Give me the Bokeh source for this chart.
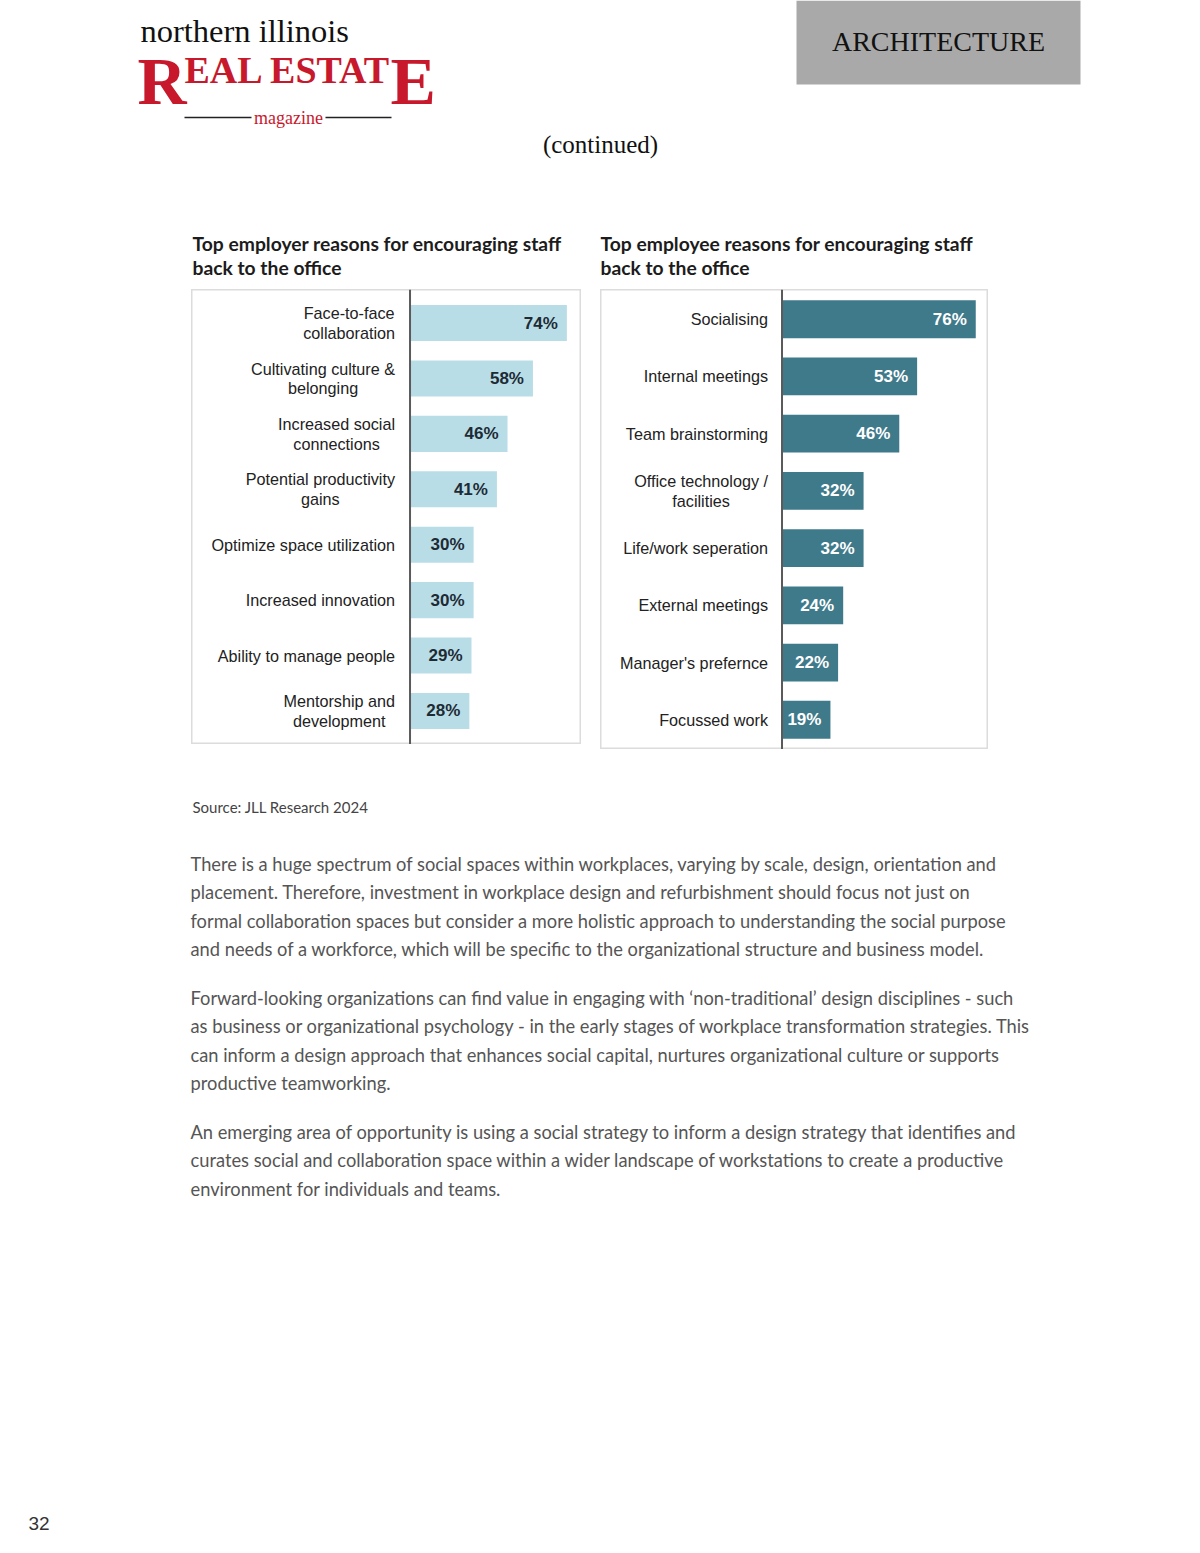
from bokeh.plotting import figure
from bokeh.models import Range1d, FactorRange, Span, Spacer
from bokeh.layouts import column, row
from bokeh.core.properties import value
from bokeh.embed import file_html
from bokeh.resources import INLINE

# ---------------- data ----------------
employer_title = ["Top employer reasons for encouraging staff", "back to the office"]
employer_reasons = ["Face-to-face\ncollaboration", "Cultivating culture &\nbelonging",
                    "Increased social\nconnections", "Potential productivity\ngains",
                    "Optimize space utilization", "Increased innovation",
                    "Ability to manage people", "Mentorship and\ndevelopment"]
employer_pct = [74, 58, 46, 41, 30, 30, 29, 28]

employee_title = ["Top employee reasons for encouraging staff", "back to the office"]
employee_reasons = ["Socialising", "Internal meetings", "Team brainstorming",
                    "Office technology /\nfacilities", "Life/work seperation",
                    "External meetings", "Manager's prefernce", "Focussed work"]
employee_pct = [76, 53, 46, 32, 32, 24, 22, 19]

source_text = "Source: JLL Research 2024"
paragraphs = [
    ["There is a huge spectrum of social spaces within workplaces, varying by scale, design, orientation and",
     "placement. Therefore, investment in workplace design and refurbishment should focus not just on",
     "formal collaboration spaces but consider a more holistic approach to understanding the social purpose",
     "and needs of a workforce, which will be specific to the organizational structure and business model."],
    ["Forward-looking organizations can find value in engaging with \u2018non-traditional\u2019 design disciplines - such",
     "as business or organizational psychology - in the early stages of workplace transformation strategies. This",
     "can inform a design approach that enhances social capital, nurtures organizational culture or supports",
     "productive teamworking."],
    ["An emerging area of opportunity is using a social strategy to inform a design strategy that identifies and",
     "curates social and collaboration space within a wider landscape of workstations to create a productive",
     "environment for individuals and teams."],
]
page_number = "32"

RED = "#c8182c"
W = 1192


def blank(width, height, y0, y1):
    p = figure(width=width, height=height, x_range=Range1d(0, width),
               y_range=Range1d(y1, y0), min_border=0, toolbar_location=None,
               output_backend="svg")
    p.axis.visible = False
    p.grid.visible = False
    p.outline_line_color = None
    p.background_fill_color = "white"
    p.border_fill_color = "white"
    return p


# ---------------- header ----------------
hdr = blank(W, 289, 0, 289)
hdr.text(x=[140], y=[30], text=["northern illinois"], text_font=value("Liberation Serif"),
         text_font_size=value("32.5px"), text_color="#111111", text_baseline="middle")
hdr.text(x=[137], y=[42], text=["R"], text_font=value("Liberation Serif"), text_font_style="bold",
         text_font_size=value("68px"), text_color=RED, text_baseline="top")
hdr.text(x=[184], y=[48], text=["EAL ESTAT"], text_font=value("Liberation Serif"), text_font_style="bold",
         text_font_size=value("38px"), text_color=RED, text_baseline="top")
hdr.text(x=[390], y=[42], text=["E"], text_font=value("Liberation Serif"), text_font_style="bold",
         text_font_size=value("68px"), text_color=RED, text_baseline="top")
hdr.segment(x0=[184, 325], y0=[117, 117], x1=[251, 391], y1=[117, 117], line_color="#222222", line_width=1.5)
hdr.text(x=[288], y=[117], text=["magazine"], text_font=value("Liberation Serif"),
         text_font_size=value("18px"), text_color=RED, text_align="center", text_baseline="middle")

hdr.quad(left=[796], right=[1080], top=[0], bottom=[84], fill_color="#a9a9a9", line_color=None)
hdr.text(x=[938], y=[41], text=["ARCHITECTURE"], text_font=value("Liberation Serif"),
         text_font_size=value("28px"), text_color="#111111", text_align="center", text_baseline="middle")
hdr.text(x=[600], y=[144], text=["(continued)"], text_font=value("Liberation Serif"),
         text_font_size=value("25px"), text_color="#111111", text_align="center", text_baseline="middle")

hdr.text(x=[192, 192], y=[243, 267], text=employer_title, text_font=value("Lato"), text_font_style="bold",
         text_font_size=value("19.3px"), text_color="#1c1c1c", text_baseline="middle")
hdr.text(x=[600, 600], y=[243, 267], text=employee_title, text_font=value("Lato"), text_font_style="bold",
         text_font_size=value("19.3px"), text_color="#1c1c1c", text_baseline="middle")


# ---------------- charts ----------------
def bar_chart(cats, vals, width, height, xr, pad, bar_h, bar_color, lab_color, gap):
    p = figure(width=width, height=height, x_range=Range1d(*xr),
               y_range=FactorRange(factors=list(reversed(cats)), range_padding=pad,
                                   range_padding_units="absolute"),
               min_border=0, toolbar_location=None, output_backend="svg")
    p.axis.visible = False
    p.grid.visible = False
    p.outline_line_color = "#dcdcdc"
    p.outline_line_width = 2
    p.background_fill_color = "white"
    p.border_fill_color = "white"
    p.hbar(y=cats, left=0, right=vals, height=bar_h, fill_color=bar_color, line_color=None)
    p.add_layout(Span(location=0, dimension="height", line_color="#5a5a5a", line_width=2))
    p.text(x=[0] * len(cats), y=cats, text=cats, x_offset=-gap, anchor=value("center_right"),
           text_align="center", text_baseline="middle", text_font=value("Liberation Sans"),
           text_font_size=value("16.2px"), text_color="#222222", text_line_height=1.09)
    p.text(x=vals, y=cats, text=[f"{v}%" for v in vals], x_offset=-9, text_align="right",
           text_baseline="middle", text_font=value("Liberation Sans"), text_font_style="bold",
           text_font_size=value("17px"), text_color=lab_color)
    return p


left = bar_chart(employer_reasons, employer_pct, 390, 455, (-103.1, 80.9), 0.105, 0.65,
                 "#b9dde7", "#1d2b35", 15)
right = bar_chart(employee_reasons, employee_pct, 388, 460, (-71.2, 81.0), 0.02, 0.66,
                  "#3f7a8b", "#ffffff", 14)

charts = row(Spacer(width=191, height=460), left, Spacer(width=19, height=460), right,
             Spacer(width=W - 191 - 390 - 19 - 388, height=460))

# ---------------- body text ----------------
body = blank(W, 796, 749, 1545)
body.text(x=[192], y=[806], text=[source_text], text_font=value("Lato"), text_font_size=value("15px"),
          text_color="#444444", text_baseline="middle")
line_y = [[863, 891, 920, 948], [997, 1025, 1054, 1082], [1131, 1159, 1188]]
xs, ys, ts = [], [], []
for para, yy in zip(paragraphs, line_y):
    for t, y in zip(para, yy):
        xs.append(190)
        ys.append(y)
        ts.append(t)
body.text(x=xs, y=ys, text=ts, text_font=value("Lato"), text_font_size=value("18.3px"),
          text_color="#555555", text_baseline="middle")
body.text(x=[28], y=[1523], text=[page_number], text_font=value("Liberation Sans"),
          text_font_size=value("19px"), text_color="#333333", text_baseline="middle")

page = column(hdr, charts, body)
open("out.html", "w").write(file_html(page, INLINE))
